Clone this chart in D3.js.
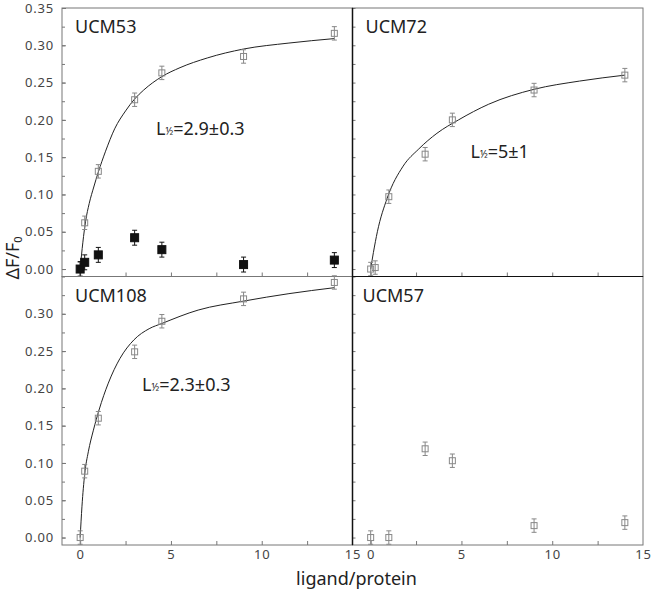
<!DOCTYPE html>
<html>
<head>
<meta charset="utf-8">
<script src="https://cdn.jsdelivr.net/npm/d3@7"></script>
<style>
  body { margin: 0; background: #fff; }
  text { font-family: "Noto Sans", sans-serif; }
</style>
</head>
<body>
<svg id="chart" width="652" height="593"></svg>
<script>
// ligand/protein ratios used in the titrations
var xLevels = [0, 0.25, 1, 3, 4.5, 9, 14];
var xLevels57 = [0, 1, 3, 4.5, 9, 14];

// dF/F0 values
var ucm53Open   = [0, 0.062, 0.131, 0.227, 0.263, 0.285, 0.316];
var ucm53Filled = [0, 0.009, 0.019, 0.042, 0.026, 0.006, 0.012];
var ucm72       = [0, 0.002, 0.097, 0.154, 0.200, 0.240, 0.260];
var ucm108      = [0, 0.089, 0.160, 0.249, 0.290, 0.320, 0.342];
var ucm57       = [0, 0, 0.119, 0.103, 0.016, 0.020];

var errOpen   = [0.009, 0.009, 0.009, 0.009, 0.009, 0.009, 0.009];
var errFilled = [0.010, 0.010, 0.010, 0.010, 0.010, 0.010, 0.010];

// fitted curves
var fit53X = [0, 0.15, 0.3, 0.5, 0.75, 1.0, 1.4, 1.9, 2.5, 3.0, 3.5, 4.5, 5.5, 7, 9, 11.5, 14];
var fit53Y = [0, 0.036, 0.064, 0.088, 0.110, 0.130, 0.158, 0.188, 0.212, 0.228, 0.240, 0.258, 0.270, 0.283, 0.295, 0.303, 0.309];
var fit72X = [0, 0.15, 0.37, 0.91, 1.79, 2.65, 3.65, 4.84, 6.5, 9, 11.5, 14];
var fit72Y = [0, 0.022, 0.050, 0.095, 0.138, 0.161, 0.182, 0.200, 0.221, 0.241, 0.252, 0.260];
var fit108X = [0, 0.1, 0.25, 0.45, 0.73, 1.04, 1.55, 2.19, 2.96, 3.8, 4.5, 6.5, 9, 11.5, 14];
var fit108Y = [0, 0.042, 0.085, 0.115, 0.144, 0.171, 0.207, 0.240, 0.265, 0.280, 0.287, 0.305, 0.317, 0.327, 0.335];

var yTicks = [0, 0.05, 0.10, 0.15, 0.20, 0.25, 0.30, 0.35];
var xTicks = [0, 5, 10, 15];

(function() {

var svg = d3.select("#chart");

var marginLeft = 62, marginTop = 8;
var pw = 290.5, ph = 268.5;

var x = d3.scaleLinear().domain([-1, 15]).range([0, pw]);
var y = d3.scaleLinear().domain([-0.01, 0.35]).range([ph, 0]);

var panels = [
  { name: "UCM53", col: 0, row: 0, nameX: 13, lab: "=2.9±0.3", labX: 94, labY: 127,
    fitX: fit53X, fitY: fit53Y,
    series: [
      { x: xLevels, y: ucm53Open, err: errOpen, filled: false },
      { x: xLevels, y: ucm53Filled, err: errFilled, filled: true }
    ] },
  { name: "UCM72", col: 1, row: 0, nameX: 13, lab: "=5±1", labX: 118, labY: 150,
    fitX: fit72X, fitY: fit72Y,
    series: [ { x: xLevels, y: ucm72, err: errOpen, filled: false } ] },
  { name: "UCM108", col: 0, row: 1, nameX: 13, lab: "=2.3±0.3", labX: 80, labY: 114,
    fitX: fit108X, fitY: fit108Y,
    series: [ { x: xLevels, y: ucm108, err: errOpen, filled: false } ] },
  { name: "UCM57", col: 1, row: 1, nameX: 10, lab: null,
    series: [ { x: xLevels57, y: ucm57, err: errOpen, filled: false } ] }
];

var line = d3.line()
  .x(function(d) { return x(d[0]); })
  .y(function(d) { return y(d[1]); })
  .curve(d3.curveMonotoneX);

panels.forEach(function(p) {
  var g = svg.append("g")
    .attr("transform", "translate(" + (marginLeft + p.col * pw) + "," + (marginTop + p.row * ph) + ")");

  // minor ticks
  g.append("g")
    .call(d3.axisLeft(y).tickValues(d3.range(0, 15).map(function(i) { return i * 0.025; }))
      .tickSizeInner(-3).tickSizeOuter(0).tickFormat(""))
    .call(function(a) { a.select(".domain").remove(); a.selectAll("line").attr("stroke", "#777"); });
  g.append("g")
    .attr("transform", "translate(0," + ph + ")")
    .call(d3.axisBottom(x).tickValues([0, 2.5, 5, 7.5, 10, 12.5])
      .tickSizeInner(-4).tickSizeOuter(0).tickFormat(""))
    .call(function(a) { a.select(".domain").remove(); a.selectAll("line").attr("stroke", "#777"); });

  // y labels on left column only
  if (p.col === 0) {
    var yt = p.row === 0 ? yTicks : yTicks.slice(0, 7);
    g.append("g")
      .call(d3.axisLeft(y).tickValues(yt).tickSizeInner(-4).tickSizeOuter(0)
        .tickPadding(8).tickFormat(d3.format(".2f")))
      .call(function(a) {
        a.select(".domain").remove();
        a.selectAll("line").attr("stroke", "#777");
        a.selectAll("text").attr("font-size", 13).attr("fill", "#444")
          .attr("letter-spacing", 0.8).style("font-family", "Noto Sans");
      });
  }
  // x labels on bottom row only
  if (p.row === 1) {
    g.append("g")
      .attr("transform", "translate(0," + ph + ")")
      .call(d3.axisBottom(x).tickValues(xTicks).tickSize(0).tickPadding(5).tickFormat(d3.format("d")))
      .call(function(a) {
        a.select(".domain").remove();
        a.selectAll("text").attr("font-size", 13).attr("fill", "#444")
          .attr("letter-spacing", 0.8).style("font-family", "Noto Sans");
      });
  }

  // frame
  g.append("rect")
    .attr("width", pw).attr("height", ph)
    .attr("fill", "none").attr("stroke", "#777").attr("stroke-width", 1);

  // fitted curve
  if (p.fitX) {
    g.append("path")
      .datum(d3.zip(p.fitX, p.fitY))
      .attr("d", line)
      .attr("fill", "none")
      .attr("stroke", "#222")
      .attr("stroke-width", 1);
  }

  // data with error bars
  p.series.forEach(function(s) {
    var pts = s.x.map(function(v, i) { return { x: v, y: s.y[i], e: s.err[i] }; });
    var col = s.filled ? "#111" : "#888";
    var pg = g.append("g").selectAll("g").data(pts).enter().append("g");
    pg.append("line")
      .attr("x1", function(d) { return x(d.x); }).attr("x2", function(d) { return x(d.x); })
      .attr("y1", function(d) { return y(d.y - d.e); }).attr("y2", function(d) { return y(d.y + d.e); })
      .attr("stroke", col).attr("stroke-width", 1);
    [-1, 1].forEach(function(sg) {
      pg.append("line")
        .attr("x1", function(d) { return x(d.x) - 2.5; }).attr("x2", function(d) { return x(d.x) + 2.5; })
        .attr("y1", function(d) { return y(d.y + sg * d.e); }).attr("y2", function(d) { return y(d.y + sg * d.e); })
        .attr("stroke", col).attr("stroke-width", 1);
    });
    var sz = s.filled ? 8 : 6;
    pg.append("rect")
      .attr("x", function(d) { return x(d.x) - sz / 2; })
      .attr("y", function(d) { return y(d.y) - sz / 2; })
      .attr("width", sz).attr("height", sz)
      .attr("fill", s.filled ? "#111" : "#fff")
      .attr("fill-opacity", s.filled ? 1 : 0)
      .attr("stroke", col).attr("stroke-width", 1);
  });

  // panel name
  g.append("text")
    .attr("x", p.nameX).attr("y", 25)
    .attr("font-size", 18).attr("fill", "#222")
    .text(p.name);

  // half-saturation label
  if (p.lab) {
    var t = g.append("text")
      .attr("x", p.labX).attr("y", p.labY)
      .attr("font-size", 18).attr("fill", "#222");
    t.append("tspan").text("L");
    t.append("tspan").attr("font-size", 10).text("½");
    t.append("tspan").text(p.lab);
  }
});

// dark dividers on the right column
svg.append("line")
  .attr("x1", marginLeft + pw).attr("x2", marginLeft + pw)
  .attr("y1", marginTop).attr("y2", marginTop + 2 * ph)
  .attr("stroke", "#111").attr("stroke-width", 1.5);
svg.append("line")
  .attr("x1", marginLeft + pw).attr("x2", marginLeft + 2 * pw)
  .attr("y1", marginTop + ph).attr("y2", marginTop + ph)
  .attr("stroke", "#111").attr("stroke-width", 1.2);

// axis titles
var yl = svg.append("text")
  .attr("transform", "translate(19,258) rotate(-90)")
  .attr("text-anchor", "middle")
  .attr("font-size", 18).attr("fill", "#222");
yl.append("tspan").text("ΔF/F");
yl.append("tspan").attr("font-size", 11).attr("dy", 3).text("0");

svg.append("text")
  .attr("x", marginLeft + pw + 4).attr("y", 585)
  .attr("text-anchor", "middle")
  .attr("font-size", 18).attr("fill", "#222")
  .text("ligand/protein");

})();
</script>
</body>
</html>
